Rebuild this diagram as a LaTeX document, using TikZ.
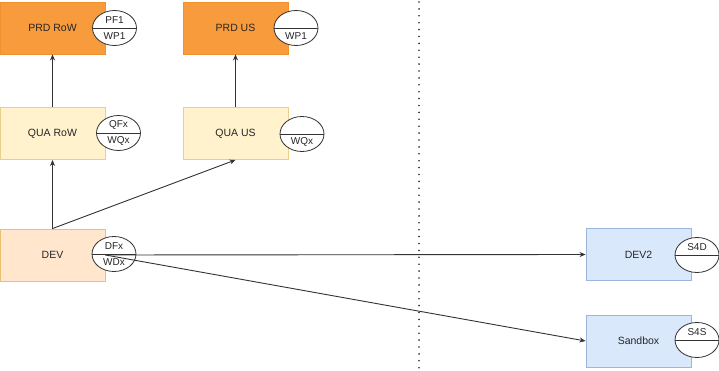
\documentclass[tikz,border=0pt]{standalone}
\usepackage{fontspec}
\setmainfont{Liberation Sans}
\usetikzlibrary{shapes.geometric,arrows.meta}

\definecolor{prdfill}{HTML}{F79B3C}
\definecolor{prdline}{HTML}{F0912E}
\definecolor{quafill}{HTML}{FFF2CC}
\definecolor{qualine}{HTML}{E8D08A}
\definecolor{devfill}{HTML}{FFE6CC}
\definecolor{devline}{HTML}{EBC070}
\definecolor{sapfill}{HTML}{DAE8FC}
\definecolor{sapline}{HTML}{9DB5DA}
\definecolor{ink}{HTML}{262626}
\definecolor{wire}{HTML}{333333}

\tikzset{
  sysbox/.style={rectangle, minimum width=105pt, minimum height=52pt,
    inner sep=0pt, line width=0.9pt, text=ink, font=\fontsize{10.5}{12}\selectfont},
  prd/.style={sysbox, fill=prdfill, draw=prdline},
  qua/.style={sysbox, fill=quafill, draw=qualine},
  devbox/.style={sysbox, fill=devfill, draw=devline},
  sapbox/.style={sysbox, fill=sapfill, draw=sapline},
  tag/.style={ellipse, minimum width=44pt, minimum height=35pt, inner sep=0pt,
    fill=white, draw=wire, line width=0.8pt},
  tagtext/.style={inner sep=0pt, text=ink, font=\fontsize{10}{11}\selectfont},
  arr/.style={draw=wire, line width=0.9pt, -{Stealth[length=6pt,width=5pt]}},
  divider/.style={draw=black!85, line width=1.8pt, line cap=round,
    dash pattern=on 0pt off 6.9pt},
}

\begin{document}
\begin{tikzpicture}[x=1pt,y=-1pt]
\useasboundingbox (0,0) rectangle (719,371);

% landscape boundary
\coordinate (divtop) at (419,2);
\coordinate (divbot) at (419,371);
\draw[divider] (divtop) -- (divbot);

% systems
\node[prd] (prdrow) at (52.5,28) {PRD RoW};
\node[prd] (prdus) at (235.5,28) {PRD US};
\node[qua] (quarow) at (52.5,133.5) {QUA RoW};
\node[qua] (quaus) at (235.5,133.5) {QUA US};
\node[devbox] (dev) at (52.5,255) {DEV};
\node[sapbox] (dev2) at (638.5,254.5) {DEV2};
\node[sapbox] (sandbox) at (638.5,341) {Sandbox};

% client tags
\node[tag] (prdrowtag) at (114.5,28) {};
\node[tag] (prdustag) at (296,28) {};
\node[tag] (quarowtag) at (118.5,133) {};
\node[tag] (quaustag) at (302,134) {};
\node[tag] (devtag) at (114,254) {};
\node[tag] (dev2tag) at (697,255) {};
\node[tag] (sandboxtag) at (697,340) {};

\foreach \t in {prdrowtag,prdustag,quarowtag,quaustag,devtag,dev2tag,sandboxtag}
  \draw[draw=wire, line width=0.8pt] (\t.west) -- (\t.east);

\node[tagtext] (prdrowup) at ([yshift=8pt]prdrowtag.center) {PF1};
\node[tagtext] (prdrowlo) at ([yshift=-8pt]prdrowtag.center) {WP1};
\node[tagtext] (prduslo) at ([yshift=-8pt]prdustag.center) {WP1};
\node[tagtext] (quarowup) at ([yshift=8pt]quarowtag.center) {QFx};
\node[tagtext] (quarowlo) at ([yshift=-8pt]quarowtag.center) {WQx};
\node[tagtext] (quauslo) at ([yshift=-8pt]quaustag.center) {WQx};
\node[tagtext] (devup) at ([yshift=8pt]devtag.center) {DFx};
\node[tagtext] (devlo) at ([yshift=-8pt]devtag.center) {WDx};
\node[tagtext] (dev2up) at ([yshift=8pt]dev2tag.center) {S4D};
\node[tagtext] (sandboxup) at ([yshift=8pt]sandboxtag.center) {S4S};

% transport routes
\draw[arr] (quarow.north) -- (prdrow.south);
\draw[arr] (quaus.north) -- (prdus.south);
\draw[arr] (dev.north) -- (quarow.south);
\draw[arr] (dev.north) -- (quaus.south);
\draw[arr] (dev.east) -- (dev2.west);
\draw[arr] (dev.east) -- (sandbox.west);
\end{tikzpicture}
\end{document}
